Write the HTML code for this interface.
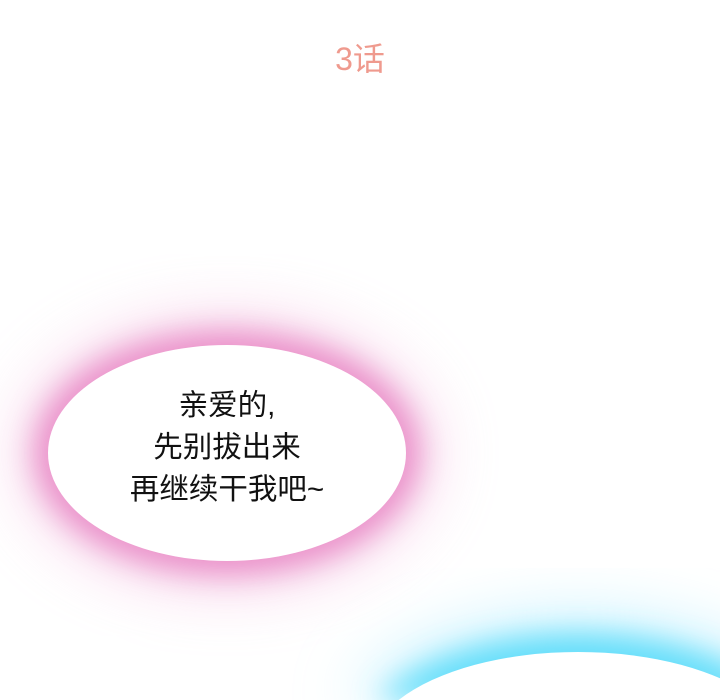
<!DOCTYPE html>
<html>
<head>
<meta charset="utf-8">
<style>
  html,body{margin:0;padding:0;width:720px;height:700px;overflow:hidden;}
  body{position:relative;background:#fff;
    font-family:"Liberation Sans","Noto Sans CJK SC",sans-serif;}
  #title{position:absolute;left:0;width:720px;top:34px;text-align:center;
    font-size:32px;color:#ef9a8e;}
  #pink-glow{position:absolute;left:48px;top:345px;width:358px;height:216px;border-radius:50%;
    background:#fff;box-shadow:0 0 28px 14px rgba(230,120,190,0.75),0 0 60px 30px rgba(240,170,215,0.45);}
  #bubble-text{position:absolute;left:28px;width:398px;top:385px;text-align:center;
    font-size:29.5px;line-height:42px;color:#111;}
  #blue-svg{position:absolute;left:0;top:0;}
</style>
</head>
<body>
  <svg id="blue-svg" width="720" height="700" viewBox="0 0 720 700">
    <defs>
      <filter id="b1" x="-50%" y="-50%" width="200%" height="200%"><feGaussianBlur stdDeviation="14"/></filter>
      <filter id="b2" x="-50%" y="-50%" width="200%" height="200%"><feGaussianBlur stdDeviation="30"/></filter>
    </defs>
    <path d="M346,700 A250,140 0 0 1 810,700 Z" fill="rgba(170,235,255,0.6)" filter="url(#b2)"/>
    <path d="M376,700 A225,118 0 0 1 780,700 Z" fill="rgba(90,220,250,0.9)" filter="url(#b1)"/>
    <path d="M398.6,700 A210,100 0 0 1 757.4,700 Z" fill="#fff"/>
  </svg>
  <div id="title">3话</div>
  <div id="pink-glow"></div>
  <div id="bubble-text">亲爱的,<br>先别拔出来<br>再继续干我吧~</div>
</body>
</html>
